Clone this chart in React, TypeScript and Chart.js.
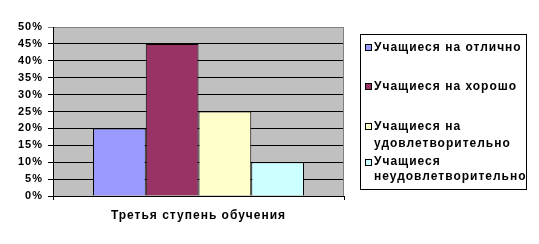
import React, { useEffect, useRef } from "react";
import { Chart, registerables } from "chart.js";

Chart.register(...registerables);

const categories = ["Третья ступень обучения"];
const seriesNames = [
  "Учащиеся на отлично",
  "Учащиеся на хорошо",
  "Учащиеся на удовлетворительно",
  "Учащиеся неудовлетворительно",
];
const seriesValues = [[20], [45], [25], [10]];
const seriesColors = ["#9999FF", "#993366", "#FFFFCC", "#CCFFFF"];
const yTicksMin = 0;
const yTicksMax = 50;
const yTicksStep = 5;

const FONT = "'Liberation Sans', Arial, sans-serif";
const LS = "1px";

const plotBg = {
  id: "plotBg",
  beforeInit(chart: any) {
    (chart.ctx as any).letterSpacing = LS;
  },
  beforeUpdate(chart: any) {
    (chart.ctx as any).letterSpacing = LS;
  },
  beforeDraw(chart: any) {
    const { ctx, chartArea: a } = chart;
    (ctx as any).letterSpacing = LS;
    ctx.save();
    ctx.fillStyle = "#C0C0C0";
    ctx.fillRect(a.left, a.top, a.right - a.left, a.bottom - a.top);
    ctx.restore();
  },
  beforeDatasetsDraw(chart: any) {
    const { ctx, chartArea: a } = chart;
    ctx.save();
    ctx.strokeStyle = "#808080";
    ctx.lineWidth = 1;
    ctx.beginPath();
    ctx.moveTo(Math.round(a.right) - 0.5, a.top);
    ctx.lineTo(Math.round(a.right) - 0.5, a.bottom);
    ctx.stroke();
    ctx.restore();
  },
};

export default function App() {
  const ref = useRef<HTMLCanvasElement | null>(null);
  useEffect(() => {
    if (!ref.current) return;
    const chart = new Chart(ref.current, {
      type: "bar",
      data: {
        labels: categories,
        datasets: seriesNames.map((name, i) => ({
          label: name,
          data: seriesValues[i],
          backgroundColor: seriesColors[i],
          borderColor: "#000000",
          borderWidth: 1,
          categoryPercentage: 0.725,
          barPercentage: 1,
        })),
      },
      options: {
        responsive: false,
        animation: false,
        layout: { padding: { left: 0, right: 195, top: 27, bottom: 0 } },
        plugins: { legend: { display: false }, tooltip: { enabled: false } },
        scales: {
          x: {
            afterFit: (s: any) => {
              s.height = 48;
            },
            grid: {
              drawOnChartArea: false,
              drawTicks: true,
              tickLength: 4,
              color: "#000000",
            },
            border: { color: "#000000", width: 1 },
            ticks: {
              color: "#000000",
              padding: 8,
              font: { family: FONT, size: 12, weight: "bold" },
            },
          },
          y: {
            min: yTicksMin,
            max: yTicksMax,
            afterFit: (s: any) => {
              s.width = 53;
            },
            grid: {
              color: (c: any) => (c.tick && c.tick.value === yTicksMax ? "#808080" : "#000000"),
              lineWidth: 1,
              tickLength: 5,
            },
            border: { color: "#000000", width: 1 },
            ticks: {
              stepSize: yTicksStep,
              color: "#000000",
              padding: 5,
              font: { family: FONT, size: 11, weight: "bold" },
              callback: (v: any) => v + "%",
            },
          },
        },
      },
      plugins: [plotBg],
    });
    return () => chart.destroy();
  }, []);

  const itemTops = [39, 78, 118, 154];
  const lineHeights = [16, 16, 17, 15];
  return (
    <div style={{ position: "fixed", left: 0, top: 0, width: 539, height: 244, background: "#fff" }}>
      <canvas ref={ref} width={539} height={244} style={{ width: 539, height: 244, display: "block" }} />
      <div
        style={{
          position: "absolute",
          left: 360,
          top: 34,
          width: 167,
          height: 156,
          border: "1px solid #000",
          boxSizing: "border-box",
        }}
      />
      {seriesNames.map((name, i) => (
        <div
          key={name}
          style={{
            position: "absolute",
            left: 365,
            top: itemTops[i],
            width: 172,
            fontFamily: FONT,
            fontWeight: "bold",
            fontSize: 12,
            lineHeight: lineHeights[i] + "px",
            color: "#000",
            display: "flex",
            alignItems: "flex-start",
          }}
        >
          <span
            style={{
              display: "inline-block",
              width: 7,
              height: 7,
              marginTop: 5,
              marginRight: 2,
              flex: "0 0 auto",
              background: seriesColors[i],
              border: "1px solid #000",
              boxSizing: "border-box",
            }}
          />
          <span style={{ width: 160, letterSpacing: LS }}>{name}</span>
        </div>
      ))}
    </div>
  );
}
